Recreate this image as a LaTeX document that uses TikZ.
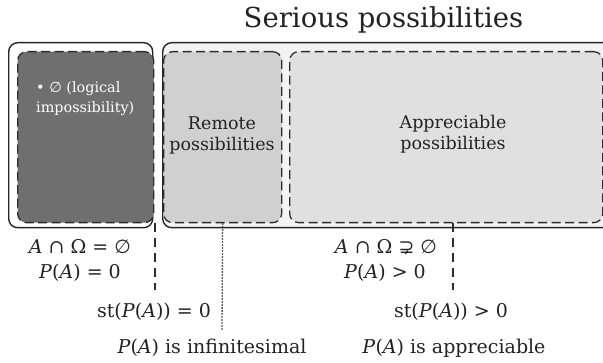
\documentclass[tikz,border=0pt]{standalone}
\usepackage{fontspec}
\setmainfont{DejaVu Serif}
\newfontfamily\symfont{DejaVu Sans}
\usetikzlibrary{positioning}

\definecolor{darkregion}{HTML}{6F6F6F}
\definecolor{remoteregion}{HTML}{D0D0D0}
\definecolor{apprregion}{HTML}{E0E0E0}
\definecolor{seriousregion}{HTML}{F3F3F3}
\definecolor{edgegrey}{HTML}{2C2C2C}
\definecolor{inkgrey}{HTML}{222222}

\newcommand{\PA}{\textit{P}(\textit{A})}
\newcommand{\nullset}{{\symfont ∅}}
\newcommand{\propsup}{{\symfont ⊋}}

\begin{document}
\begin{tikzpicture}[x=1pt,y=-1pt,
  solidbox/.style={draw=black!85,line width=1.4pt,rounded corners=9pt,anchor=north west,inner sep=0pt},
  dashbox/.style={draw=edgegrey,line width=1.3pt,dash pattern=on 9pt off 4.5pt,rounded corners=9pt,anchor=north west,inner sep=0pt},
  boxtext/.style={font=\fontsize{17.5}{21}\selectfont,align=center,text=inkgrey,inner sep=0pt},
  condtext/.style={font=\fontsize{19}{21}\selectfont,text=inkgrey,inner sep=0pt},
  cutline/.style={draw=edgegrey,line width=1.3pt,dash pattern=on 9pt off 6pt},
  fineline/.style={draw=black,line width=1.3pt,dash pattern=on 1.3pt off 1.7pt}]
\path[use as bounding box] (0,0) rectangle (603,363);

% outer regions
\node[solidbox,fill=white,minimum width=144pt,minimum height=185pt] (logical) at (8,42) {};
\node[solidbox,fill=seriousregion,minimum width=460pt,minimum height=185pt] (serious) at (162,42) {};
\node[anchor=base,font=\fontsize{27.5}{33}\selectfont,text=inkgrey] (seriouslabel) at (383.5,28) {Serious possibilities};

% dashed inner regions
\node[dashbox,fill=darkregion,minimum width=136pt,minimum height=171pt] (impossible) at (17,51) {};
\node[dashbox,fill=remoteregion,minimum width=118pt,minimum height=171pt] (remote) at (163,51) {};
\node[dashbox,fill=apprregion,minimum width=313pt,minimum height=171pt] (apprbox) at (289,51) {};

\node[anchor=north west,align=left,inner sep=0pt,text=white,font=\fontsize{14.4}{20}\selectfont] (emptyset) at (36,81) {• \nullset\ (logical\\impossibility)};
\node[boxtext] (remotelabel) at (222,135) {Remote\\possibilities};
\node[boxtext] (apprlabel) at (453,134) {Appreciable\\possibilities};

% conditions below the regions
\node[condtext] (emptycap) at (80,247) {\textit{A} ∩ Ω = \nullset};
\node[condtext] (zeroprob) at (80,273) {\PA\ = 0};
\node[condtext] (stzero) at (154,312) {st(\PA) = 0};
\node[condtext] (infinitesimal) at (212,348) {\PA\ is infinitesimal};
\node[condtext] (nonemptycap) at (386,247) {\textit{A} ∩ Ω \propsup\ \nullset};
\node[condtext] (posprob) at (385,273) {\PA\ > 0};
\node[condtext] (stpos) at (451,312) {st(\PA) > 0};
\node[condtext] (appreciable) at (454,348) {\PA\ is appreciable};

\coordinate (zerofoot) at (155,290);
\coordinate (remotefoot) at (222,330);
\coordinate (posfoot) at (453,290);
\draw[cutline] (zerofoot |- impossible.south) -- (zerofoot);
\draw[fineline] (remote.south) -- (remotefoot);
\draw[cutline] (posfoot |- apprbox.south) -- (posfoot);
\end{tikzpicture}
\end{document}
